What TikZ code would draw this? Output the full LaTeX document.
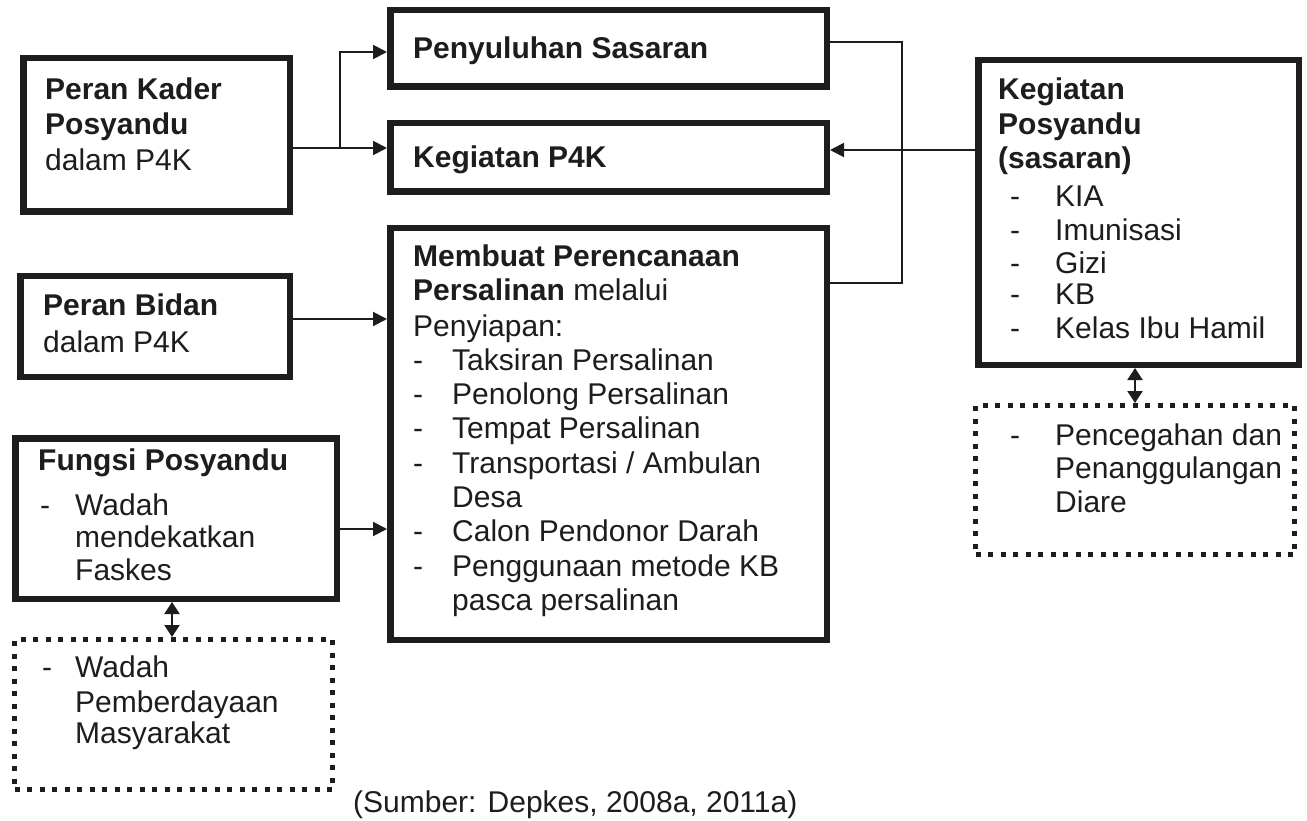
\documentclass[tikz,border=0pt]{standalone}
\usepackage{fontspec}
\setmainfont{Liberation Sans}
\usetikzlibrary{arrows.meta}
\definecolor{ink}{HTML}{1E1C1D}
\tikzset{
 boxst/.style={draw=ink, line width=6.5pt, rectangle, inner sep=0pt, outer sep=3.25pt, fill=white},
 dotbox/.style={draw=ink, line width=5pt, dash pattern=on 5pt off 7.5pt, rectangle, inner sep=0pt, outer sep=2.5pt},
 txt/.style={inner sep=0pt, anchor=base west, text=ink, font=\fontsize{30}{35}\selectfont},
 conn/.style={draw=ink, line width=2pt},
 arr/.style={conn, -{Triangle[length=14pt,width=14pt]}},
 darr/.style={conn, {Triangle[length=12pt,width=15pt]}-{Triangle[length=12pt,width=15pt]}},
}
\newcommand\bx[7]{\node[#2, minimum width={(#5)-(#3)-#7}, minimum height={(#6)-(#4)-#7}] (#1) at ({((#3)+(#5))/2},{((#4)+(#6))/2}) {};}
\newcommand\tl[4]{\node[txt] (#1) at (#2,#3) {#4};}
\begin{document}
\begin{tikzpicture}[x=1pt,y=-1pt]
\useasboundingbox[fill=white] (0,0) rectangle (1307,821);
% boxes
\bx{A}{boxst}{20}{55}{293}{215}{6.5}
\bx{PS}{boxst}{387}{7}{830}{90}{6.5}
\bx{KP}{boxst}{387}{120}{830}{195}{6.5}
\bx{MP}{boxst}{387}{225}{830}{643}{6.5}
\bx{PB}{boxst}{17}{273}{293}{380}{6.5}
\bx{FP}{boxst}{12}{435}{340}{602}{6.5}
\bx{DL}{dotbox}{12}{637}{335}{792}{5}
\bx{KY}{boxst}{975}{57}{1302}{368}{6.5}
\bx{DR}{dotbox}{973}{403}{1297}{557}{5}
% connectors
\coordinate (j1) at (340,148);
\draw[arr] (A.east |- j1) -- (KP.west |- j1);
\draw[arr] (j1) |- (PS.west |- 0,52);
\coordinate (r1) at (902,42);
\coordinate (r2) at (902,283);
\draw[conn] (PS.east |- r1) -- (r1) -- (r2) -- (MP.east |- r2);
\draw[arr] (KY.west |- 0,150) -- (KP.east |- 0,150);
\draw[arr] (PB.east |- 0,319) -- (MP.west |- 0,319);
\draw[arr] (FP.east |- 0,529) -- (MP.west |- 0,529);
\draw[darr] (FP.south -| 172,0) -- (DL.north -| 172,0);
\draw[darr] (KY.south -| 1135,0) -- (DR.north -| 1135,0);
% texts: box A
\tl{a1}{45}{100}{\bfseries Peran Kader}
\tl{a2}{45}{135}{\bfseries Posyandu}
\tl{a3}{45}{171}{dalam P4K}
% Penyuluhan / Kegiatan P4K
\tl{ps1}{413}{59}{\bfseries Penyuluhan Sasaran}
\tl{kp1}{413}{168}{\bfseries Kegiatan P4K}
% Peran Bidan
\tl{pb1}{43}{315}{\bfseries Peran Bidan}
\tl{pb2}{43}{352}{dalam P4K}
% Fungsi Posyandu
\tl{fp1}{38}{470}{\bfseries Fungsi Posyandu}
\tl{fp2}{40}{515}{-}
\tl{fp3}{75}{515}{Wadah}
\tl{fp4}{75}{547}{mendekatkan}
\tl{fp5}{75}{580}{Faskes}
% dotted left
\tl{dl1}{42}{677}{-}
\tl{dl2}{75}{677}{Wadah}
\tl{dl3}{75}{712}{Pemberdayaan}
\tl{dl4}{75}{743}{Masyarakat}
% Membuat
\tl{m1}{413}{267}{\bfseries Membuat Perencanaan}
\tl{m2}{413}{301}{\textbf{Persalinan} melalui}
\tl{m3}{413}{336}{Penyiapan:}
\tl{m4a}{413}{370}{-}\tl{m4}{452}{370}{Taksiran Persalinan}
\tl{m5a}{413}{404}{-}\tl{m5}{452}{404}{Penolong Persalinan}
\tl{m6a}{413}{438}{-}\tl{m6}{452}{438}{Tempat Persalinan}
\tl{m7a}{413}{473}{-}\tl{m7}{452}{473}{Transportasi / Ambulan}
\tl{m8}{452}{507}{Desa}
\tl{m9a}{413}{541}{-}\tl{m9}{452}{541}{Calon Pendonor Darah}
\tl{m10a}{413}{576}{-}\tl{m10}{452}{576}{Penggunaan metode KB}
\tl{m11}{452}{610}{pasca persalinan}
% Kegiatan Posyandu
\tl{k1}{998}{100}{\bfseries Kegiatan}
\tl{k2}{998}{135}{\bfseries Posyandu}
\tl{k3}{998}{169}{\bfseries (sasaran)}
\tl{k4a}{1010}{207}{-}\tl{k4}{1055}{207}{KIA}
\tl{k5a}{1010}{241}{-}\tl{k5}{1055}{241}{Imunisasi}
\tl{k6a}{1010}{273}{-}\tl{k6}{1055}{273}{Gizi}
\tl{k7a}{1010}{305}{-}\tl{k7}{1055}{305}{KB}
\tl{k8a}{1010}{338}{-}\tl{k8}{1055}{338}{Kelas Ibu Hamil}
% dotted right
\tl{d1a}{1010}{445}{-}\tl{d1}{1055}{445}{Pencegahan dan}
\tl{d2}{1055}{478}{Penanggulangan}
\tl{d3}{1055}{512}{Diare}
% source
\tl{src}{353}{812}{(Sumber: Depkes, 2008a, 2011a)}
\end{tikzpicture}
\end{document}
